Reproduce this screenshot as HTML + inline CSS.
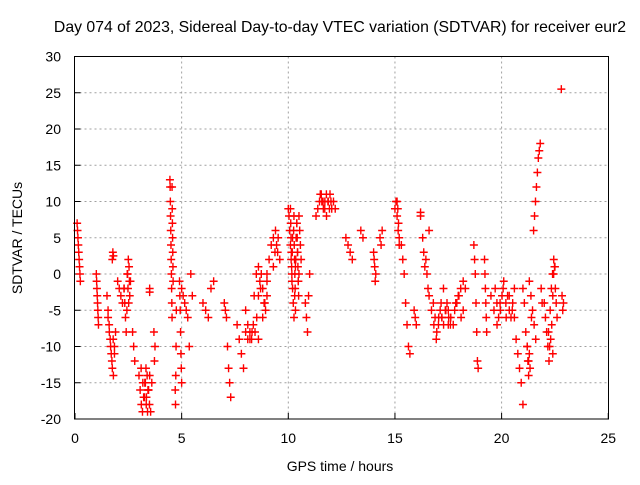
<!DOCTYPE html>
<html><head><meta charset="utf-8"><style>
body{margin:0;background:#fff;}
svg text{font-family:"Liberation Sans",sans-serif;fill:#000;}
</style></head><body>
<svg id="chart" width="640" height="480" xmlns="http://www.w3.org/2000/svg">
<text x="340" y="32" font-size="15.8" text-anchor="middle">Day 074 of 2023, Sidereal Day-to-day VTEC variation (SDTVAR) for receiver eur2</text>
<text transform="translate(22,238) rotate(-90)" font-size="14" text-anchor="middle">SDTVAR / TECUs</text>
<text x="340" y="471" font-size="14" text-anchor="middle">GPS time / hours</text>
<g id="grid"></g>
<g id="axes"></g>
<g id="points"></g>
<rect x="74.5" y="56.5" width="534" height="362.5" fill="none" stroke="#000" stroke-width="1"/>
</svg>
<script>
const xTicks=[0,5,10,15,20,25];
const yTicks=[-20,-15,-10,-5,0,5,10,15,20,25,30];
const groupStart=[0.1,1.0,1.5,1.75,2.0,2.3,2.7,3.0,3.5,3.7,4.45,4.7,4.9,5.0,6.0,7.0,7.6,8.0,9.0,10.0,10.8,11.3,12.7,13.4,14.0,14.3,15.0,15.3,15.9,16.2,16.3,16.6,17.5,18.7,19.2,19.5,20.6,21.0,21.5,22.0,22.8,
 1.55,3.1,4.55,8.2,8.6,9.3,10.1,10.25,10.4,11.5,15.1,16.8,17.2,17.8,19.7,20.2,21.2,21.3,22.2,22.4,3.3,2.45];
const groupEnd=[0.25,1.1,1.9,1.8,2.3,2.6,2.8,3.6,3.5,3.75,4.55,4.75,5.0,5.5,6.5,7.3,8.1,9.0,9.5,10.6,11.0,12.2,13.0,13.5,14.1,14.4,15.2,15.7,16.0,16.2,16.6,17.5,18.2,18.9,19.3,20.5,21.0,21.4,21.9,22.5,22.9,
 1.85,3.5,4.6,8.6,9.0,9.6,10.2,10.35,10.5,12.0,15.2,17.2,17.6,18.3,20.1,20.6,21.3,21.6,22.4,22.6,3.45,2.55];
const groupValues=[
[7,6,5,4,3,2,1,0,-1],
[0,-1,-2,-3,-4,-5,-6,-7],
[-3,-5,-7,-9,-11,-13,-14,-10,-8],
[2,3,2.5],
[-1,-2,-3,-4,-2],
[-2,-4,-6,-8,-5,0,2,1,-3,-1],
[-8,-10,-12],
[-14,-16,-18,-19,-17,-15,-13,-14,-16,-18,-19,-15],
[-2,-2.5],
[-8,-12,-10],
[13,12,10,8,6,4,2,0,-2,-4,-6],
[-16,-18,-14,-10,-5],
[-1,-3,-5,-8,-11,-13,-15],
[-2,-3,-4,-5,-6,-10,0,-3],
[-4,-5,-6,-2,-1],
[-4,-5,-6,-10,-13,-15,-17],
[-7,-9,-11,-13,-8,-9],
[-5,-7,-9,-8,-3,0,1,-2,-6,-4,-1],
[0,2,4,5,6,3],
[9,8,6,4,2,0,-2,-4,-6,-3,1,5,7,3,-1,8,6,4,2],
[-4,-6,-8,-3,0],
[8,9,10,11,10,9,8,10,11,9,10,9],
[5,4,3,2],
[6,5],
[3,2,1,-1,0],
[5,4,6],
[9,10,8,6,4],
[4,2,0,-4,-7,-10,-11],
[-5,-6,-7],
[8,8.5],
[5,3,1,2,0,-2,6],
[-3,-5,-7,-9,-6,-4,-2,-5,-7],
[-5,-6,-7,-4,-3,-2,-1],
[4,2,0,-4,-8,-12,-13],
[2,0,-2,-4,-6,-8],
[-3,-5,-7,-4,-2,-6,-3,-5],
[-6,-9,-11,-13,-15,-18],
[-2,-4,-8,-10,-12,-13,-6],
[6,8,10,12,14,16,17,18,-2,-4],
[-4,-6,-8,-10,-12,-5,-2,0,2,1],
[25.5,-3,-5,-4],
[-6,-8,-10,-12,-9,-11],
[-13,-15,-17,-18,-16,-14],
[12,9,7,5,3,1,-1],
[-8,-9,-7,-8,-6,-9],
[-3,-1,0,-2,-4,-5,-3],
[1,3,4,5,2],
[9,7,5,3,1,-1,3,5],
[6,8,4,2,0,-2,-5,2],
[7,5,3,1,-1,-3,0],
[11,10,9,10,11,10,9,10],
[10,9,7,5],
[-4,-6,-8,-7,-5,-6],
[-6,-7,-5,-4,-6,-7],
[-5,-4,-3,-6,-5,-2],
[-2,-4,-6,-5,-3,-1],
[-4,-3,-5,-6,-4,-2],
[-10,-12,-14,-11],
[-1,-3,-5,-7,-9],
[-8,-10,-9,-7,-11],
[-3,0,1,-2,-4,-6],
[-15,-17,-19,-16],
[0,-2,-4,-1]];
const X0=75,XS=21.33,Y0=419,YS=7.25;
function xs(t){return X0+t*XS;}
function ys(v){return Y0-(v+20)*YS;}
const NS="http://www.w3.org/2000/svg";
const grid=document.getElementById('grid'),axes=document.getElementById('axes'),pts=document.getElementById('points');
function mk(tag,attrs,parent){const e=document.createElementNS(NS,tag);for(const k in attrs)e.setAttribute(k,attrs[k]);parent.appendChild(e);return e;}
xTicks.forEach(t=>{
 const x=xs(t);
 if(t>0&&t<25){const g=mk('line',{x1:x,x2:x,y1:56.5,y2:419,stroke:'#a0a0a0','stroke-dasharray':'2,3'},grid);
 
 }
 const tk=mk('line',{x1:x,x2:x,y1:419,y2:413,stroke:'#000'},axes);
 
 
 const lb=mk('text',{x:x,y:443,'font-size':'14','text-anchor':'middle'},axes);lb.textContent=t;
 
 
});
yTicks.forEach(v=>{
 const y=ys(v);
 if(v>-20&&v<30){const g=mk('line',{x1:74.5,x2:608.5,y1:y,y2:y,stroke:'#a0a0a0','stroke-dasharray':'2,3'},grid);
 
 }
 const tk=mk('line',{x1:74.5,x2:80.5,y1:y,y2:y,stroke:'#000'},axes);
 
 
 const lb=mk('text',{x:61,y:y+5,'font-size':'14','text-anchor':'end'},axes);lb.textContent=v;
 
 
});
groupValues.forEach((vals,g)=>{
 const n=vals.length;
 vals.forEach((v,i)=>{
  const t=groupStart[g]+(n>1?(groupEnd[g]-groupStart[g])*i/(n-1):0);
  const x=xs(t),y=ys(v);
  const p=mk('path',{d:`M${x-4},${y}H${x+4}M${x},${y-4}V${y+4}`,stroke:'#ff0000','stroke-width':'1.4',fill:'none'},pts);
  
  
 });
});
</script>
</body></html>
